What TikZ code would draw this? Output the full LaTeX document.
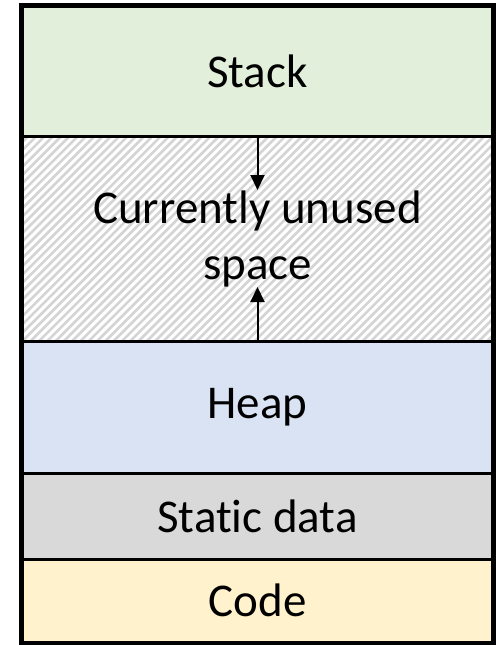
\documentclass[tikz,border=0pt]{standalone}
\usepackage{fontspec}
\setmainfont{Carlito}[Ligatures=NoCommon]
\usetikzlibrary{arrows.meta}
\definecolor{stackc}{HTML}{E2EFDA}
\definecolor{heapc}{HTML}{DAE3F3}
\definecolor{staticc}{HTML}{D9D9D9}
\definecolor{codec}{HTML}{FFF2CC}
\definecolor{hatchc}{HTML}{D4D4D4}
\tikzset{
  seg/.style={draw=black, line width=3pt, minimum width=470pt, inner sep=0pt, anchor=center,
    font=\fontsize{47}{56}\selectfont, align=center},
  hatchline/.style={draw=hatchc, line width=2.6pt},
  growarrow/.style={line width=2pt, -{Triangle[width=14pt,length=15pt]}},
}
\begin{document}
\begin{tikzpicture}[x=1pt,y=1pt]
\useasboundingbox (0,0) rectangle (503,-645);
\begin{scope}
  \clip (22.5,-136) rectangle (492.5,-341);
  \foreach \i in {-26,...,58} \draw[hatchline] ({22.5+\i*8.3},-341) -- ++(215,215);
\end{scope}
\node[seg, fill=stackc, minimum height=129.5pt] (stack) at (257.5,-71.25) {Stack};
\node[seg, minimum height=205pt] (unused) at (257.5,-238.5) {};
\node[seg, fill=heapc, minimum height=132pt] (heap) at (257.5,-407) {Heap};
\node[seg, fill=staticc, minimum height=86pt] (static) at (257.5,-516) {Static data};
\node[seg, fill=codec, minimum height=83pt] (code) at (257.5,-600.5) {Code};
\node[font=\fontsize{47}{56}\selectfont, align=center, inner sep=0pt] (ulabel) at (unused.center) {Currently unused\\space};
\coordinate (dtip) at (257.5,-190);
\coordinate (utip) at (257.5,-287);
\draw[growarrow] (stack.south) -- (dtip);
\draw[growarrow] (heap.north) -- (utip);
\draw[line width=3.5pt] (stack.north west) rectangle (code.south east);
\end{tikzpicture}
\end{document}
